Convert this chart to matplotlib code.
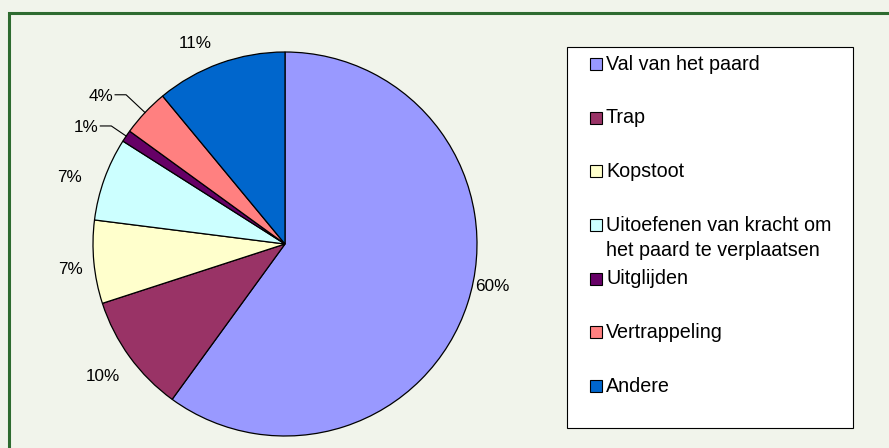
import numpy as np
import matplotlib
matplotlib.use("Agg")
import matplotlib.pyplot as plt
from matplotlib.patches import Rectangle

categories = [
    "Val van het paard",
    "Trap",
    "Kopstoot",
    "Uitoefenen van kracht om\nhet paard te verplaatsen",
    "Uitglijden",
    "Vertrappeling",
    "Andere",
]
values = [60, 10, 7, 7, 1, 4, 11]
colors = ["#9999FF", "#993366", "#FFFFCC", "#CCFFFF", "#660066", "#FF8080", "#0066CC"]

plt.rcParams["font.family"] = ["Liberation Sans", "DejaVu Sans"]

W, H = 889, 448
fig = plt.figure(figsize=(W / 100, H / 100), dpi=100)
fig.patch.set_facecolor("#F1F4EB")
ax = fig.add_axes([0, 0, 1, 1])

cx, cy, r = 285, H - 244, 192
wedges, _ = ax.pie(values, colors=colors, startangle=90, counterclock=False,
                   center=(cx, cy), radius=r,
                   wedgeprops=dict(edgecolor="black", linewidth=0.9))
ax.set_xlim(0, W)
ax.set_ylim(0, H)
ax.set_aspect("auto")
ax.axis("off")

# label layout tweaks (pixel nudges, x right / y down) per slice index
label_nudge = {0: (1, -25), 1: (-7, 5), 2: (1, 5), 3: (-11, 7), 6: (-16, 4)}
leader_ext = {4: 18, 5: 26}

for i, (w, v) in enumerate(zip(wedges, values)):
    th = np.deg2rad((w.theta1 + w.theta2) / 2)
    d = np.array([np.cos(th), np.sin(th)])
    txt = f"{v}%"
    if v < 5:
        p0 = np.array([cx, cy]) + r * d
        el = np.array([cx, cy]) + (r + leader_ext.get(i, 22)) * d
        ax.plot([p0[0], el[0], el[0] - 11], [p0[1], el[1], el[1]],
                color="black", lw=0.8)
        ax.text(el[0] - 13, el[1], txt, ha="right", va="center_baseline",
                fontsize=12.3)
    else:
        p = np.array([cx, cy]) + 1.13 * r * d
        nx, ny = label_nudge.get(i, (0, 0))
        ax.text(p[0] + nx, p[1] - ny, txt, ha="center", va="center",
                fontsize=12.3)

# legend
ax.add_patch(Rectangle((566.5, H - 428), 286, 381, facecolor="white",
                       edgecolor="black", linewidth=0.8, zorder=3))
y0, y1 = 64, 386
pitch = (y1 - y0) / (len(categories) - 1)
for k, (lab, col) in enumerate(zip(categories, colors)):
    y = y0 + k * pitch
    ax.add_patch(Rectangle((590, H - y - 6), 12, 12, facecolor=col,
                           edgecolor="black", linewidth=0.8, zorder=4))
    for j, ln in enumerate(lab.split("\n")):
        ax.text(606, H - y - 25 * j, ln, ha="left", va="center",
                fontsize=14.2, zorder=5)

# outer green border
ax.add_patch(Rectangle((8.7, -20), 920, H - 13 + 20, facecolor="none",
                       edgecolor="#2E6B30", linewidth=2.2, zorder=6,
                       clip_on=False))

fig.savefig("out.png", dpi=100, facecolor=fig.get_facecolor())
